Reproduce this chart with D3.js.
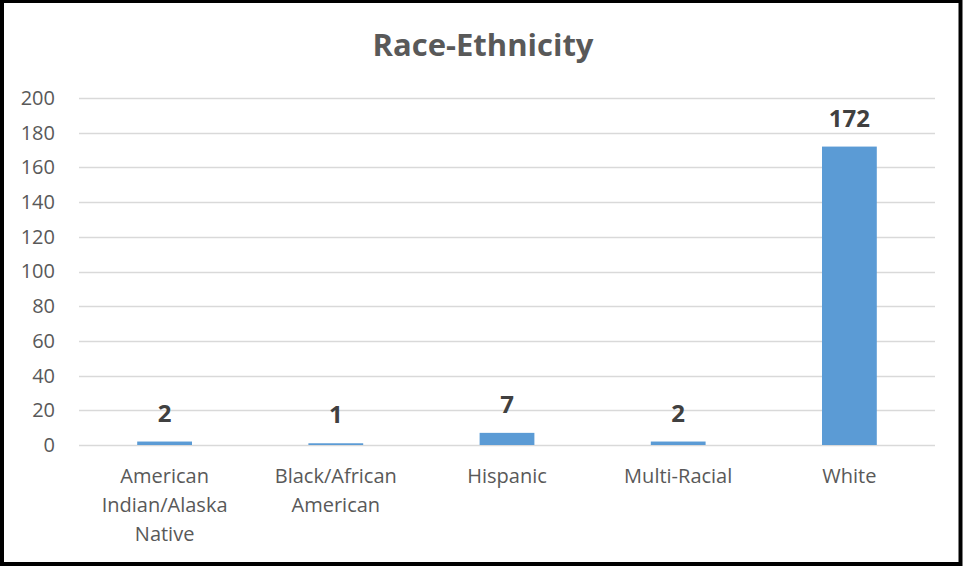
<!DOCTYPE html>
<html>
<head>
<meta charset="utf-8">
<script src="https://cdn.jsdelivr.net/npm/d3@7"></script>
<style>
  body { margin: 0; background: #fff; }
  text { font-family: "Open Sans", "Noto Sans", sans-serif; }
</style>
</head>
<body>
<div id="chart"></div>
<script>
// data
var categories = ["American Indian/Alaska Native", "Black/African American", "Hispanic", "Multi-Racial", "White"];
var catLines = [["American", "Indian/Alaska", "Native"], ["Black/African", "American"], ["Hispanic"], ["Multi-Racial"], ["White"]];
var values = [2, 1, 7, 2, 172];
var yTicks = [0, 20, 40, 60, 80, 100, 120, 140, 160, 180, 200];

var W = 963, H = 566;
var margin = {top: 98, right: 28, bottom: 121, left: 79};
var width = W - margin.left - margin.right,
    height = H - margin.top - margin.bottom;

var root = d3.select("#chart").append("svg")
    .attr("width", W)
    .attr("height", H);

// outer frame
root.append("rect")
    .attr("x", 2).attr("y", 1)
    .attr("width", W - 4.5).attr("height", H - 3)
    .attr("fill", "none")
    .attr("stroke", "#000")
    .attr("stroke-width", 4);

root.append("text")
    .attr("x", 483)
    .attr("y", 56)
    .attr("text-anchor", "middle")
    .attr("font-size", "31px")
    .attr("font-weight", "bold")
    .attr("fill", "#595959")
    .text("Race-Ethnicity");

var svg = root.append("g")
    .attr("transform", `translate(${margin.left}, ${margin.top})`);

var x = d3.scaleBand()
    .domain(categories)
    .range([0, width])
    .paddingInner(0.68)
    .paddingOuter(0.34);

var y = d3.scaleLinear()
    .domain([0, 200])
    .range([height, 0]);

// gridlines
svg.append("g")
    .selectAll("line")
    .data(yTicks)
    .enter().append("line")
    .attr("x1", 0)
    .attr("x2", width)
    .attr("y1", function(d) { return Math.round(y(d)) + 0.5; })
    .attr("y2", function(d) { return Math.round(y(d)) + 0.5; })
    .attr("stroke", "#d9d9d9")
    .attr("stroke-width", 1.5);

// y axis labels
var yAxis = svg.append("g")
    .call(d3.axisLeft(y).tickValues(yTicks).tickSize(0).tickPadding(24));
yAxis.select(".domain").remove();
yAxis.selectAll("text")
    .attr("font-family", "Open Sans")
    .attr("font-size", "20px")
    .attr("fill", "#595959");

// bars
svg.selectAll("rect.bar")
    .data(values)
    .enter().append("rect")
    .attr("class", "bar")
    .attr("x", function(d, i) { return x(categories[i]); })
    .attr("width", x.bandwidth())
    .attr("y", function(d) { return y(d); })
    .attr("height", function(d) { return height - y(d); })
    .attr("fill", "#5b9bd5");

// data labels
svg.selectAll("text.val")
    .data(values)
    .enter().append("text")
    .attr("class", "val")
    .attr("x", function(d, i) { return x(categories[i]) + x.bandwidth() / 2; })
    .attr("y", function(d) { return y(d) - 20; })
    .attr("text-anchor", "middle")
    .attr("font-size", "24px")
    .attr("font-weight", "bold")
    .attr("fill", "#404040")
    .text(function(d) { return d; });

// category labels
var cat = svg.append("g")
    .selectAll("text")
    .data(catLines)
    .enter().append("text")
    .attr("text-anchor", "middle")
    .attr("font-size", "20px")
    .attr("fill", "#595959")
    .attr("transform", function(d, i) {
      return `translate(${x(categories[i]) + x.bandwidth() / 2}, ${height + 38})`;
    });
cat.selectAll("tspan")
    .data(function(d) { return d; })
    .enter().append("tspan")
    .attr("x", 0)
    .attr("dy", function(d, i) { return i === 0 ? 0 : 29; })
    .text(function(d) { return d; });
</script>
</body>
</html>
